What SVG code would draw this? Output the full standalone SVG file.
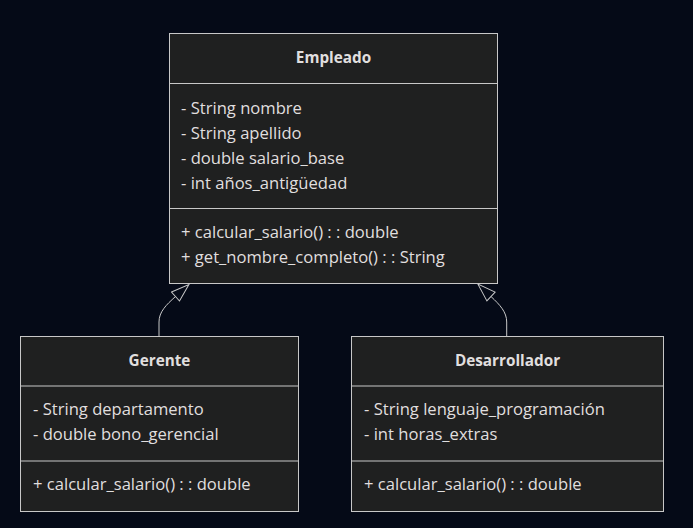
<svg xmlns="http://www.w3.org/2000/svg" width="693" height="528" viewBox="0 0 693 528">
<defs>
<style>
.bg{fill:#050a17}
.box{fill:#1f2020;stroke:#c8c8c8;stroke-width:1}
.div{stroke:#c8c8c8;stroke-width:1}
.t{font-family:"Open Sans","Liberation Sans",sans-serif;font-size:16.6px;fill:#e0dfdf}
.title{font-weight:bold;text-anchor:middle;font-size:15.3px}
.edge{fill:none;stroke:#c8c8c8;stroke-width:1}
</style>
<marker id="tri" markerUnits="userSpaceOnUse" markerWidth="20" markerHeight="14" refX="0" refY="6" orient="auto" viewBox="-1 -1 20 14">
<path d="M0,0 L18,6 L0,12 Z" fill="#050a17" stroke="#c8c8c8" stroke-width="1"/>
</marker>
</defs>
<rect class="bg" x="0" y="0" width="693" height="528"/>
<g id="connectors">
<path class="edge" d="M159,336 L159,322 C159,312 166,305 175.5,296.5" marker-end="url(#tri)"/>
<path class="edge" d="M506.7,336 L506.7,322 C506.7,312 500,305 491,296.5" marker-end="url(#tri)"/>
</g>
<g id="Empleado">
<rect class="box" x="169.5" y="33.5" width="328" height="250"/>
<line class="div" x1="169.5" y1="83.5" x2="497.5" y2="83.5"/>
<line class="div" x1="169.5" y1="208.5" x2="497.5" y2="208.5"/>
<text class="t title" x="333.5" y="63">Empleado</text>
<text class="t" x="181" y="114">- String nombre</text>
<text class="t" x="181" y="139">- String apellido</text>
<text class="t" x="181" y="164">- double salario_base</text>
<text class="t" x="181" y="189">- int años_antigüedad</text>
<text class="t" x="181" y="238">+ calcular_salario() : : double</text>
<text class="t" x="181" y="263">+ get_nombre_completo() : : String</text>
</g>
<g id="Gerente">
<rect class="box" x="20.5" y="336.5" width="278" height="175"/>
<line class="div" x1="20.5" y1="386" x2="298.5" y2="386"/>
<line class="div" x1="20.5" y1="461" x2="298.5" y2="461"/>
<text class="t title" x="159.5" y="366">Gerente</text>
<text class="t" x="33" y="415">- String departamento</text>
<text class="t" x="33" y="440">- double bono_gerencial</text>
<text class="t" x="33" y="490">+ calcular_salario() : : double</text>
</g>
<g id="Desarrollador">
<rect class="box" x="351.5" y="336.5" width="312" height="175"/>
<line class="div" x1="351.5" y1="386" x2="663.5" y2="386"/>
<line class="div" x1="351.5" y1="461" x2="663.5" y2="461"/>
<text class="t title" x="507.5" y="366">Desarrollador</text>
<text class="t" x="364" y="415">- String lenguaje_programación</text>
<text class="t" x="364" y="440">- int horas_extras</text>
<text class="t" x="364" y="490">+ calcular_salario() : : double</text>
</g>
</svg>
